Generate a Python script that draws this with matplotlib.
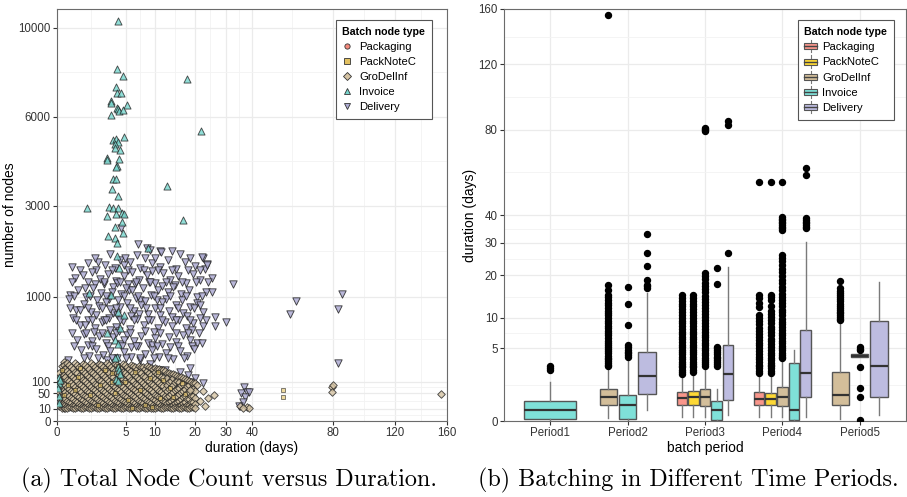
import numpy as np
import matplotlib
matplotlib.use('Agg')
import matplotlib.pyplot as plt
from matplotlib.lines import Line2D
from matplotlib.patches import Rectangle
from matplotlib.legend_handler import HandlerBase

plt.rcParams['font.family'] = ['Liberation Sans', 'DejaVu Sans']

types = ['Packaging', 'PackNoteC', 'GroDelInf', 'Invoice', 'Delivery']
pt_colors = {'Packaging': '#F4897C', 'PackNoteC': '#E2C060', 'GroDelInf': '#D5C3A3',
             'Invoice': '#76D6CE', 'Delivery': '#ADABD3'}
box_colors = {'Packaging': '#F9968B', 'PackNoteC': '#FDD835', 'GroDelInf': '#D3BE9A',
              'Invoice': '#7FE0D8', 'Delivery': '#BDBCE0'}
markers = {'Packaging': 'o', 'PackNoteC': 's', 'GroDelInf': 'D', 'Invoice': '^', 'Delivery': 'v'}

# ---- (a) scatter: duration (days), number of nodes ----
packaging_pts = [(0.30, 120), (2.0, 40), (6.0, 70), (1.0, 15), (10, 30)]

delivery_pts = [
    (4.31, 2412), (6.90, 2028), (8.52, 1938), (11.2, 1871), (13.9, 1871), (6.73, 1784), (22.4, 1720),
    (11.4, 1849), (15.9, 1805), (2.96, 1805), (9.10, 1893),
    (1.01, 1616), (2.42, 1576), (1.77, 1637), (4.18, 1678), (5.61, 1637), (8.15, 1720), (9.49, 1616),
    (13.0, 1678), (17.2, 1637), (20.0, 1556), (23.7, 1596), (3.54, 1516), (7.25, 1516), (11.2, 1536),
    (14.9, 1496), (0.237, 1536), (23.0, 1496), (4.72, 1576),
    (1.52, 1720), (4.86, 1720), (10.1, 1720), (18.6, 1720),
    (0.557, 1476), (1.60, 1476), (3.18, 1476), (5.30, 1476), (7.96, 1476), (10.7, 1476), (13.9, 1476),
    (18.1, 1476), (21.5, 1476),
    (0.341, 1324), (0.711, 1380), (1.29, 1437), (1.95, 1306), (2.74, 1399), (3.66, 1269), (4.72, 1361),
    (5.92, 1437), (7.07, 1287), (8.52, 1380), (10.1, 1233), (11.8, 1418), (13.4, 1287), (15.4, 1361),
    (17.5, 1233), (19.5, 1399), (21.5, 1287), (25.3, 1324), (1.52, 1215), (5.30, 1215), (14.6, 1198),
    (9.49, 1457), (2.32, 1215), (6.40, 1215), (8.91, 1251), (3.79, 1233),
    (0.237, 1251), (1.01, 1251), (2.32, 1251), (4.18, 1251), (6.57, 1251), (9.10, 1251), (12.5, 1251),
    (16.4, 1251), (20.3, 1251), (24.0, 1251),
    (0.178, 1028), (0.464, 1111), (0.885, 996), (1.36, 1145), (2.04, 1061), (2.85, 964), (3.30, 1163),
    (4.31, 1044), (5.45, 1111), (6.57, 980), (7.78, 1145), (9.30, 1028), (10.7, 1111), (12.5, 964),
    (14.2, 1163), (16.2, 1044), (18.3, 1111), (20.6, 996), (23.4, 1077), (0.825, 1145), (7.25, 948),
    (11.6, 1180), (3.92, 948), (1.68, 948), (3.18, 1077), (5.01, 1145), (10.5, 948), (13.0, 1077),
    (16.4, 948), (5.92, 1111),
    (0.304, 1012), (1.15, 1012), (2.53, 1012), (4.72, 1012), (6.90, 1012), (9.90, 1012), (13.4, 1012),
    (17.5, 1012), (22.1, 1012),
    (0.151, 964), (0.380, 798), (0.767, 886), (1.22, 769), (1.86, 856), (2.53, 917), (3.30, 755),
    (4.18, 842), (5.16, 902), (6.24, 783), (7.42, 871), (8.71, 741), (10.1, 827), (11.6, 917),
    (13.2, 783), (14.9, 871), (16.7, 755), (18.6, 842), (20.6, 902), (22.4, 769), (1.60, 727),
    (5.76, 714), (13.9, 700), (2.96, 812), (8.15, 932), (3.79, 727), (7.07, 741), (11.2, 727),
    (17.8, 714), (0.557, 798), (21.5, 871),
    (0.178, 827), (1.01, 827), (2.13, 827), (3.66, 827), (5.61, 827), (8.33, 827), (11.2, 827),
    (15.4, 827), (19.7, 827),
    (0.269, 687), (0.557, 597), (1.01, 660), (1.52, 560), (2.13, 635), (2.85, 687), (3.66, 572),
    (4.58, 647), (5.61, 548), (6.73, 674), (7.96, 597), (9.30, 660), (10.7, 560), (12.3, 635),
    (13.9, 584), (15.7, 660), (17.5, 560), (19.5, 622), (21.5, 687), (26.3, 700), (26.3, 584),
    (22.4, 584), (30.0, 635), (4.04, 524), (9.90, 513), (2.32, 660), (0.825, 597), (19.2, 536),
    (0.380, 660), (1.29, 660), (2.53, 660), (4.18, 660), (6.24, 660), (8.71, 660), (11.6, 660),
    (14.9, 660), (18.6, 660), (23.4, 660),
    (0.421, 425), (0.767, 490), (1.29, 414), (1.86, 468), (2.53, 394), (3.30, 457), (4.18, 384),
    (5.16, 479), (6.24, 414), (7.42, 468), (8.71, 394), (10.1, 446), (11.6, 384), (13.2, 457),
    (14.9, 404), (16.7, 479), (18.6, 425), (20.6, 394), (22.1, 394), (1.01, 374), (6.90, 364),
    (13.4, 355), (1.44, 513), (2.96, 536), (8.15, 524), (14.9, 501), (4.72, 425), (9.49, 374),
    (5.76, 355),
    (0.237, 501), (0.885, 501), (2.13, 501), (3.66, 501), (5.61, 501), (11.2, 501), (18.1, 501),
    (21.2, 501),
    (0.304, 364), (1.29, 364), (2.74, 364), (4.44, 364), (6.57, 364), (10.5, 364), (15.4, 364),
    (19.2, 364),
    (0.127, 241), (0.606, 326), (1.08, 274), (1.60, 336), (2.23, 282), (2.96, 317), (3.79, 257),
    (4.72, 308), (5.76, 265), (8.15, 291), (9.49, 326), (10.9, 265), (12.5, 299), (14.2, 249),
    (15.9, 317), (17.8, 274), (19.7, 336), (2.63, 241), (7.25, 241),
    (0.767, 257), (1.77, 257), (3.18, 257), (5.01, 257), (7.25, 257), (9.90, 257), (13.0, 257),
    (17.0, 257),
    (1.95, 196), (3.54, 218), (5.61, 182), (9.10, 210), (12.3, 168), (15.9, 155), (18.6, 182),
    (20.0, 120), (22.4, 94), (8.15, 137), (13.4, 120), (0.127, 155),
    (1.01, 168), (2.74, 168), (4.44, 168), (6.90, 168), (10.7, 168),
    (22.1, 1741), (23.7, 1576), (32.6, 1215), (25.3, 1077), (57.1, 741), (60.1, 932), (85.3, 1044),
    (83.1, 812), (83.1, 218), (18.1, 137), (18.6, 98), (0.341, 13),
    (36.8, 75), (35.6, 51), (38.0, 54), (38.8, 54), (37.2, 37), (36.4, 23), (34.8, 15),
]

grodelinf_cols = [
    (0.004, [150]), (0.006, [90]), (0.003, [55]), (0.008, [30]), (0.005, [14]),
    (0.026, [195, 130, 80, 42, 19, 11]),
    (0.052, [222, 200, 178, 158, 138, 120, 103, 88, 74, 61, 50, 40, 31, 24, 18, 13.5, 10.5]),
    (0.067, [176, 124, 83, 53, 31, 17, 11]),
    (0.105, [214, 162, 110, 76, 46, 27, 15, 10.5]),
    (0.151, [203, 150, 103, 67, 41, 23, 13.5]),
    (0.206, [188, 136, 93, 59, 35, 21, 12]),
    (0.269, [176, 124, 83, 53, 31, 17, 11]),
    (0.341, [216, 158, 114, 74, 48, 26, 16, 10.8]),
    (0.421, [203, 150, 103, 67, 41, 23, 13.5]),
    (0.509, [192, 133, 90, 61, 37, 19, 12.5]),
    (0.606, [176, 124, 83, 53, 31, 17, 11]),
    (0.711, [212, 161, 111, 77, 45, 28, 14.5, 10.5]),
    (0.825, [203, 150, 103, 67, 41, 23, 13.5]),
    (0.947, [187, 137, 94, 58, 36, 21, 11.8]),
    (1.08, [176, 124, 83, 53, 31, 17, 11]),
    (1.22, [215, 157, 113, 73, 47, 26, 15.5, 10.6]),
    (1.36, [203, 150, 103, 67, 41, 23, 13.5]),
    (1.52, [190, 134, 91, 62, 35, 20, 12.2]),
    (1.68, [176, 124, 83, 53, 31, 17, 11]),
    (1.86, [213, 160, 110, 76, 48, 27, 15, 10.4]),
    (2.04, [203, 150, 103, 67, 41, 23, 13.5]),
    (2.23, [186, 136, 93, 60, 37, 21, 12]),
    (2.42, [176, 124, 83, 53, 31, 17, 11]),
    (2.63, [214, 159, 112, 74, 46, 28, 14.8, 10.7]),
    (2.85, [203, 150, 103, 67, 41, 23, 13.5]),
    (3.07, [189, 133, 92, 59, 36, 20, 12.4]),
    (3.30, [176, 124, 83, 53, 31, 17, 11]),
    (3.54, [211, 162, 111, 75, 47, 26, 15.2, 10.5]),
    (3.79, [203, 150, 103, 67, 41, 23, 13.5]),
    (4.04, [191, 135, 90, 61, 35, 21, 11.9]),
    (4.31, [176, 124, 83, 53, 31, 17, 11]),
    (4.58, [210, 158, 113, 77, 45, 27, 14.6, 10.6]),
    (4.86, [203, 150, 103, 67, 41, 23, 13.5]),
    (5.16, [188, 134, 94, 60, 37, 20, 12.3]),
    (5.45, [176, 124, 83, 53, 31, 17, 11]),
    (5.76, [200, 161, 110, 73, 48, 28, 15.4, 10.4]),
    (6.08, [198, 150, 103, 67, 41, 23, 13.5]),
    (6.40, [190, 137, 91, 62, 36, 21, 12]),
    (6.73, [176, 124, 83, 53, 31, 17, 11]),
    (7.07, [198, 156, 112, 76, 46, 26, 14.9, 10.8]),
    (7.42, [192, 150, 103, 67, 41, 23, 13.5]),
    (7.78, [186, 133, 93, 59, 35, 20, 12.6]),
    (8.15, [176, 124, 83, 53, 31, 17, 11]),
    (8.52, [195, 159, 111, 74, 47, 27, 15.1, 10.5]),
    (8.91, [188, 150, 103, 67, 41, 23, 13.5]),
    (9.30, [183, 136, 90, 61, 37, 21, 11.7]),
    (9.70, [176, 124, 83, 53, 31, 17, 11]),
    (10.1, [180, 157, 113, 75, 45, 28, 14.7, 10.6]),
    (10.5, [176, 146, 103, 67, 41, 23, 13.5]),
    (10.9, [172, 134, 92, 60, 36, 20, 12.1]),
    (11.4, [168, 124, 83, 53, 31, 17, 11]),
    (11.8, [166, 120, 80, 48, 27, 15.3, 10.4]),
    (12.3, [160, 103, 67, 41, 23, 13.5]),
    (12.7, [152, 118, 86, 59, 36, 20, 12]),
    (13.2, [148, 100, 67, 41, 23, 13.5]),
    (13.7, [145, 105, 74, 47, 27, 15, 10.5]),
    (14.2, [140, 120, 83, 53, 31, 17, 11]),
    (14.6, [138, 98, 62, 37, 21, 12.3]),
    (15.2, [132, 103, 67, 41, 23, 13.5]),
    (15.7, [128, 96, 70, 46, 27, 15.5, 10.6]),
    (16.2, [124, 83, 53, 31, 17, 11]),
    (16.7, [122, 88, 58, 36, 20, 12]),
    (17.2, [115, 67, 41, 23, 13.5]),
    (17.8, [110, 78, 50, 30, 16, 10.5]),
    (18.3, [104, 83, 53, 31, 17, 11]),
    (18.9, [98, 66, 42, 24, 13]),
    (19.5, [94, 67, 41, 23, 13.5]),
    (20.0, [92, 58, 34, 19, 11]),
    (20.6, [84]), (18.6, [62]), (24.1, [33]), (26.0, [44]), (22.5, [60]), (21.5, [25]), (23.0, [14]),
    (35.2, [14.6]), (37.9, [13.2]), (38.9, [10.4]), (36.5, [11.5]),
    (79.4, [73.5]), (80.4, [84]), (79.8, [55.6]),
    (155, [47]),
]

packnotec_pts = [
    (0.557, 182), (0.464, 125), (3.18, 149), (4.86, 98), (6.40, 155), (11.8, 109), (14.2, 37),
    (16.4, 94), (9.49, 13), (1.77, 16.6), (3.54, 51), (0.341, 62), (1.15, 44), (2.42, 168),
    (7.25, 62), (9.10, 120), (11.2, 34), (5.30, 28.6), (0.127, 84), (3.92, 196), (8.15, 16.6),
    (13.4, 70), (17.2, 47), (1.95, 84), (5.92, 11), (10.7, 155), (0.026, 168), (0.052, 44),
    (3.18, 98), (53.7, 62), (53.7, 38),
]

invoice_pts = [
    (3.88, 10380), (3.75, 8025), (4.62, 7705), (17.8, 7575), (3.62, 7225), (3.75, 6950), (4.31, 6950),
    (3.12, 6610), (3.05, 6560), (3.85, 6340), (3.95, 6280), (4.05, 6210), (5.11, 6450), (4.62, 6240),
    (3.03, 6050), (21.9, 5445), (4.68, 5230), (3.30, 5120), (3.70, 5150), (3.90, 5020), (3.50, 4980),
    (3.54, 4835), (4.17, 4760), (2.68, 4460), (2.62, 4420), (4.04, 4445), (3.79, 4210), (3.60, 4190),
    (3.35, 3790), (3.60, 3790), (12.7, 3575), (3.22, 3485), (3.95, 3280), (0.97, 2945), (2.85, 2965),
    (3.30, 2945), (3.95, 2940), (4.40, 2800), (4.70, 2780), (3.60, 2760), (2.60, 2720), (16.7, 2625),
    (4.49, 2570), (3.54, 2445), (4.62, 2295), (2.70, 2215), (3.54, 2175), (3.75, 2060), (8.65, 1945),
    (3.75, 1765), (4.04, 1515), (3.07, 1030), (1.10, 1060), (3.92, 770), (4.72, 727), (4.18, 560),
    (2.60, 502), (3.54, 420), (3.90, 380), (3.75, 268), (3.54, 257), (3.90, 190), (4.04, 168),
    (4.20, 140), (3.70, 115), (3.92, 104), (0.003, 125), (0.004, 95), (0.002, 70), (0.005, 40),
    (0.003, 20), (0.01, 110),
]

x_ticks_a = [0, 5, 10, 20, 30, 40, 80, 120, 160]
y_ticks_a = [0, 10, 50, 100, 1000, 3000, 6000, 10000]

# ---- (b) boxplots: duration (days) per batch period ----
periods = ['Period1', 'Period2', 'Period3', 'Period4', 'Period5']
box_period = [1, 2, 2, 2, 3, 3, 3, 3, 3, 4, 4, 4, 4, 4, 5, 5, 5]
box_type = ['Invoice',
            'GroDelInf', 'Invoice', 'Delivery',
            'Packaging', 'PackNoteC', 'GroDelInf', 'Invoice', 'Delivery',
            'Packaging', 'PackNoteC', 'GroDelInf', 'Invoice', 'Delivery',
            'GroDelInf', 'Invoice', 'Delivery']
box_lo = [0.0, 0.007, 0.0, 0.114, 0.013, 0.013, 0.013, 0.0, 0.034,
          0.017, 0.017, 0.017, 0.0, 0.017, 0.003, 3.82, 0.034]
box_q1 = [0.003, 0.232, 0.003, 0.672, 0.232, 0.232, 0.212, 0.001, 0.416,
          0.232, 0.232, 0.221, 0.001, 0.557, 0.241, 3.82, 0.557]
box_med = [0.114, 0.557, 0.232, 1.91, 0.486, 0.53, 0.53, 0.114, 2.08,
           0.456, 0.456, 0.557, 0.114, 2.2, 0.637, 3.98, 2.85]
box_q3 = [0.377, 0.947, 0.65, 4.45, 0.776, 0.848, 0.947, 0.377, 5.45,
          0.776, 0.739, 1.07, 3.14, 7.8, 2.29, 4.19, 9.43]
box_hi = [1.46, 2.62, 3.71, 15.4, 1.99, 2.14, 2.78, 0.947, 22.4,
          1.99, 1.99, 3.51, 4.75, 30.3, 9.3, 4.19, 18.3]
box_fliers = [
    [2.45, 2.6, 2.85],
    [2.8, 3.0, 3.2, 3.4, 3.6, 3.8, 4.0, 4.3, 4.6, 4.9, 5.2, 5.5, 5.8, 6.1, 6.5, 6.9, 7.3, 7.7, 8.1,
     8.5, 9.0, 9.5, 10.0, 10.5, 11.0, 11.5, 12.0, 12.6, 13.2, 13.8, 14.4, 15.0, 16.2, 17.4, 155],
    [3.9, 4.1, 4.3, 4.5, 4.8, 5.1, 5.4, 8.7, 12.8, 16.9],
    [16.7, 17.1, 17.4, 18.7, 22.6, 26.5, 33.0],
    [2.1, 2.3, 2.5, 2.7, 2.9, 3.1, 3.3, 3.6, 3.9, 4.2, 4.5, 4.8, 5.1, 5.5, 5.9, 6.3, 6.7, 7.1, 7.5,
     8.0, 8.5, 9.0, 9.5, 10.0, 10.6, 11.2, 11.8, 12.4, 13.0, 13.6, 14.2, 14.9],
    [2.3, 2.5, 2.7, 2.9, 3.1, 3.3, 3.6, 3.9, 4.2, 4.5, 4.8, 5.1, 5.5, 5.9, 6.3, 6.7, 7.1, 7.5, 8.0,
     8.5, 9.0, 9.5, 10.0, 10.6, 11.2, 11.8, 12.4, 13.0, 13.6, 14.2, 15.0],
    [2.9, 3.1, 3.3, 3.5, 3.8, 4.1, 4.4, 4.7, 5.0, 5.4, 5.8, 6.2, 6.6, 7.0, 7.5, 8.0, 8.5, 9.0, 9.6,
     10.2, 10.8, 11.4, 12.0, 12.7, 13.4, 14.1, 14.8, 15.6, 16.4, 17.2, 18.0, 18.9, 19.8, 20.7,
     79.0, 79.6, 80.2, 80.8],
    [2.9, 3.1, 3.3, 3.5, 3.7, 3.9, 4.2, 4.5, 4.8, 5.0, 5.2, 17.8, 22.0],
    [26.5, 82.8, 85.0],
    [2.2, 2.4, 2.6, 2.8, 3.0, 3.3, 3.6, 3.9, 4.2, 4.6, 5.0, 5.4, 5.8, 6.2, 6.6, 7.2, 7.6, 8.2, 8.8,
     9.4, 10.0, 10.5, 12.3, 13.1, 14.2, 15.0, 53.7],
    [2.2, 2.4, 2.6, 2.8, 3.0, 3.2, 3.5, 3.8, 4.1, 4.4, 4.8, 5.2, 5.6, 6.0, 6.4, 6.9, 7.4, 7.9, 8.4,
     9.0, 9.6, 10.2, 10.8, 11.5, 12.4, 13.8, 14.5, 15.0, 53.7],
    [3.7, 3.9, 4.1, 4.4, 4.7, 5.0, 5.3, 5.7, 6.1, 6.5, 6.9, 7.3, 7.8, 8.3, 8.8, 9.3, 9.9, 10.5, 11.1,
     11.7, 12.4, 13.1, 13.8, 14.5, 15.3, 16.1, 17.0, 17.9, 18.8, 19.8, 20.8, 21.8, 22.9, 24.0, 25.0,
     26.0, 34.4, 35.0, 35.6, 36.2, 36.8, 37.4, 38.0, 38.6, 39.2, 53.7],
    [],
    [35.0, 35.6, 36.2, 36.8, 37.4, 38.0, 38.7, 57.0, 60.2],
    [9.6, 9.9, 10.2, 10.5, 10.9, 11.3, 11.7, 12.1, 12.5, 13.0, 13.5, 14.0, 14.5, 15.0, 15.5, 16.0,
     16.6, 18.6],
    [4.75, 4.9, 5.1, 2.72, 1.01, 0.543, 0.001],
    [],
]
y_ticks_b = [0, 5, 10, 20, 30, 40, 80, 120, 160]


def fwd(x):
    return np.sqrt(np.clip(x, 0, None))


def inv(x):
    return np.square(x)


def minor_between(ticks):
    r = np.sqrt(ticks)
    return list(((r[:-1] + r[1:]) / 2) ** 2)


def style_axes(ax):
    for s in ax.spines.values():
        s.set_color('#6b6b6b')
        s.set_linewidth(0.8)
    ax.set_axisbelow(True)
    ax.grid(which='major', color='#ebebeb', lw=0.9)
    ax.grid(which='minor', color='#f3f3f3', lw=0.6)
    ax.tick_params(which='major', length=3, width=0.8, color='#333333',
                   labelsize=8.3, labelcolor='#333333', pad=1.5)
    ax.tick_params(which='minor', length=0)


class BoxHandler(HandlerBase):
    def create_artists(self, legend, orig_handle, xdescent, ydescent, width, height, fontsize, trans):
        x0, y0 = -xdescent, -ydescent
        fc = orig_handle.get_facecolor()
        w1 = Line2D([x0 + width / 2] * 2, [y0 - 0.2 * height, y0 + 0.15 * height],
                    color='#777777', lw=0.8, transform=trans)
        w2 = Line2D([x0 + width / 2] * 2, [y0 + 0.85 * height, y0 + 1.2 * height],
                    color='#777777', lw=0.8, transform=trans)
        rect = Rectangle((x0, y0 + 0.15 * height), width, 0.7 * height, facecolor=fc,
                         edgecolor='#555555', lw=0.8, transform=trans)
        med = Line2D([x0, x0 + width], [y0 + 0.5 * height] * 2, color='#444444', lw=1.0,
                     transform=trans)
        return [w1, w2, rect, med]


fig = plt.figure(figsize=(9.07, 4.97), dpi=100)
ax1 = fig.add_axes([57 / 907, 76 / 497, 390 / 907, 412 / 497])
ax2 = fig.add_axes([504 / 907, 76 / 497, 402 / 907, 412 / 497])

# ---------- panel (a) ----------
ax1.set_xscale('function', functions=(fwd, inv))
ax1.set_yscale('function', functions=(fwd, inv))

grodel_pts = [(d, n) for d, ns in grodelinf_cols for n in ns]
series = [('Packaging', packaging_pts), ('Delivery', delivery_pts), ('GroDelInf', grodel_pts),
          ('PackNoteC', packnotec_pts), ('Invoice', invoice_pts)]
sizes = {'Packaging': 14, 'PackNoteC': 12, 'GroDelInf': 15, 'Invoice': 26, 'Delivery': 28}
alphas = {'Packaging': 0.7, 'PackNoteC': 0.6, 'GroDelInf': 0.8, 'Invoice': 0.8, 'Delivery': 0.85}
for name, pts in series:
    xs = [p[0] for p in pts]
    ys = [p[1] for p in pts]
    ax1.scatter(xs, ys, s=sizes[name], marker=markers[name], facecolor=pt_colors[name],
                edgecolor='#222222', linewidths=0.65, alpha=alphas[name], zorder=3)

ax1.set_xlim(0, 160)
ax1.set_ylim(0, 10985)
ax1.set_xticks(x_ticks_a)
ax1.set_xticklabels([str(t) for t in x_ticks_a])
ax1.set_xticks(minor_between(x_ticks_a), minor=True)
ax1.set_yticks(y_ticks_a)
ax1.set_yticklabels([str(t) for t in y_ticks_a])
ax1.set_yticks(minor_between(y_ticks_a), minor=True)
style_axes(ax1)
ax1.set_xlabel('duration (days)', fontsize=10, labelpad=1)
ax1.set_ylabel('number of nodes', fontsize=10, labelpad=1)

handles_a = [Line2D([], [], marker=markers[t], linestyle='', markersize=3.8,
                    markerfacecolor=pt_colors[t], markeredgecolor='#333333', markeredgewidth=0.6)
             for t in types]
leg1 = ax1.legend(handles_a, types, title='Batch node type', loc='upper right',
                  bbox_to_anchor=(0.9615, 0.973), borderaxespad=0, fontsize=8.1,
                  title_fontsize=7.7, frameon=True, fancybox=False, edgecolor='#555555',
                  framealpha=1, handlelength=0.8, handletextpad=0.7, labelspacing=0.45,
                  borderpad=0.6, alignment='left')
leg1.get_title().set_fontweight('bold')
leg1.get_frame().set_linewidth(0.8)

# ---------- panel (b) ----------
ax2.set_yscale('function', functions=(fwd, inv))
counts = {p: box_period.count(p) for p in set(box_period)}
seen = {p: 0 for p in counts}
stats, positions, widths, fills = [], [], [], []
for k in range(len(box_period)):
    p = box_period[k]
    n = counts[p]
    i = seen[p]
    seen[p] += 1
    slot = 0.75 / n
    positions.append(p + (i - (n - 1) / 2) * slot)
    widths.append(slot * 0.9)
    fills.append(box_colors[box_type[k]])
    stats.append({'whislo': box_lo[k], 'q1': box_q1[k], 'med': box_med[k], 'q3': box_q3[k],
                  'whishi': box_hi[k], 'fliers': box_fliers[k]})

bp = ax2.bxp(stats, positions=positions, widths=widths, patch_artist=True, showcaps=False,
             boxprops=dict(edgecolor='#555555', linewidth=1.0),
             whiskerprops=dict(color='#7a7a7a', linewidth=1.0),
             medianprops=dict(color='#333333', linewidth=1.6),
             flierprops=dict(marker='o', markerfacecolor='black', markeredgecolor='black',
                             markersize=4.3, linestyle='none'),
             zorder=3)
for patch, c in zip(bp['boxes'], fills):
    patch.set_facecolor(c)

ax2.set_xlim(0.4, 5.6)
ax2.set_ylim(0, 160)
ax2.set_xticks(range(1, 6))
ax2.set_xticklabels(periods)
ax2.set_yticks(y_ticks_b)
ax2.set_yticklabels([str(t) for t in y_ticks_b])
ax2.set_yticks(minor_between(y_ticks_b), minor=True)
style_axes(ax2)
ax2.set_xlabel('batch period', fontsize=10, labelpad=1)
ax2.set_ylabel('duration (days)', fontsize=10, labelpad=1)

handles_b = [Rectangle((0, 0), 1, 1, facecolor=box_colors[t]) for t in types]
leg2 = ax2.legend(handles_b, types, title='Batch node type', loc='upper right',
                  bbox_to_anchor=(0.970, 0.973), borderaxespad=0, fontsize=8.1,
                  title_fontsize=7.7, frameon=True, fancybox=False, edgecolor='#555555',
                  framealpha=1, handlelength=1.1, handleheight=0.8, handletextpad=0.5,
                  labelspacing=0.45, borderpad=0.6, alignment='left',
                  handler_map={Rectangle: BoxHandler()})
leg2.get_title().set_fontweight('bold')
leg2.get_frame().set_linewidth(0.8)

# ---------- captions ----------
fig.text(229 / 907, 11 / 497, '(a) Total Node Count versus Duration.', family='cmr10',
         fontsize=17.4, ha='center', va='baseline')
fig.text(688 / 907, 11 / 497, '(b) Batching in Different Time Periods.', family='cmr10',
         fontsize=17.4, ha='center', va='baseline')

fig.savefig('out.png', dpi=100)
